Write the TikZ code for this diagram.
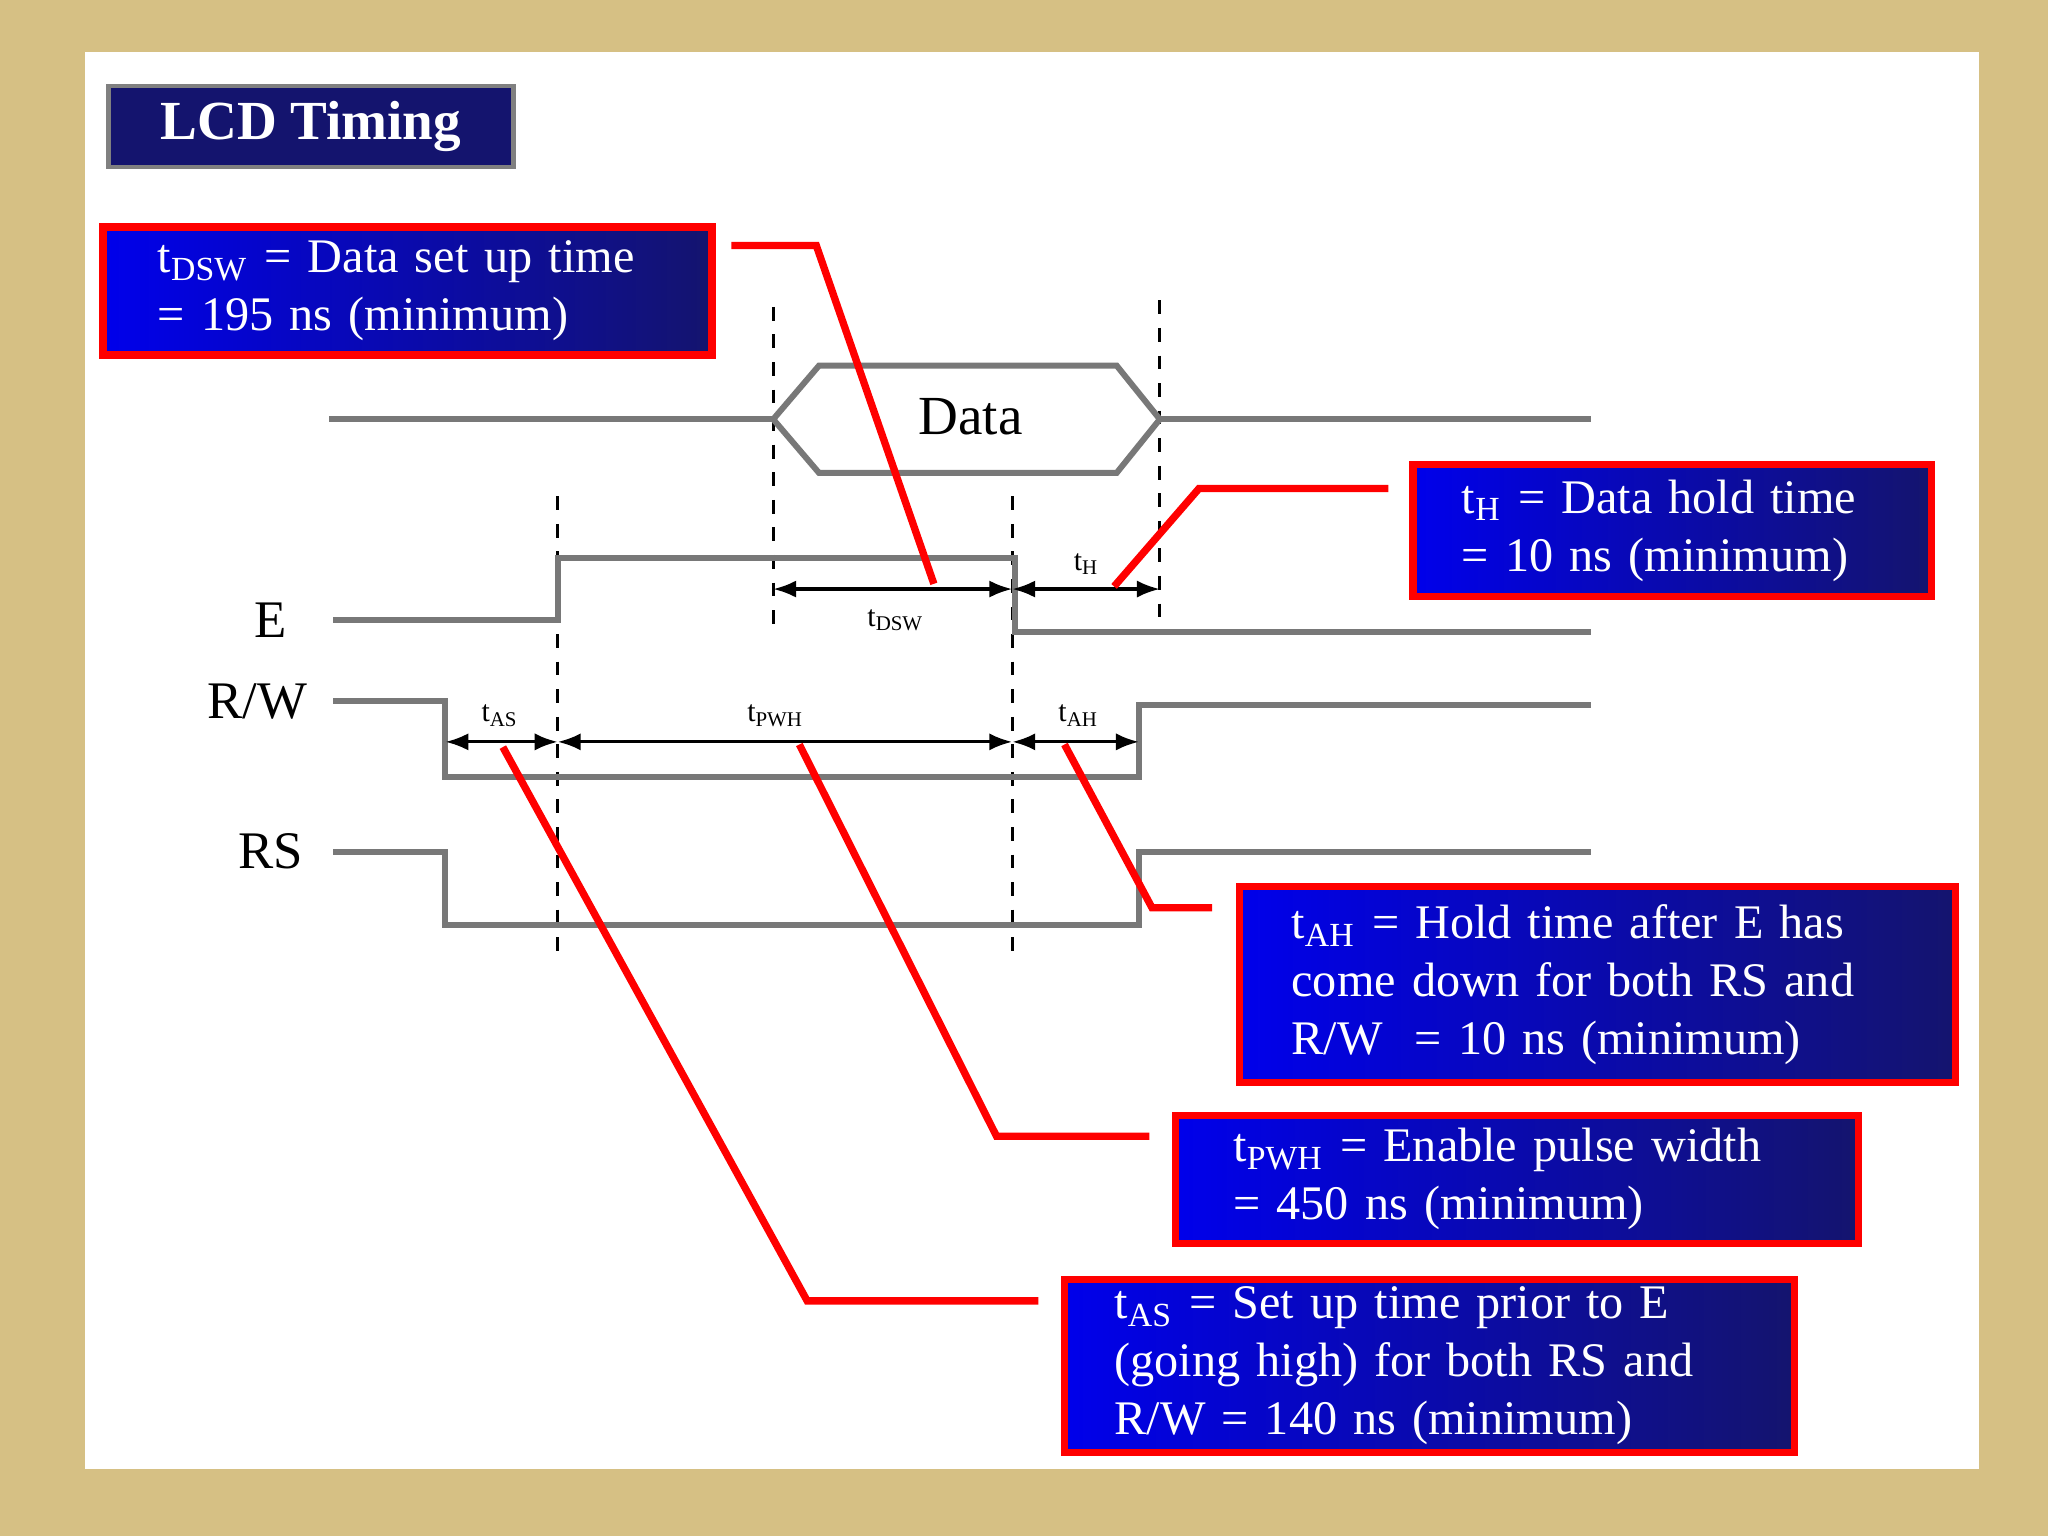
\documentclass[tikz,border=0pt]{standalone}
\usepackage{fontspec}
\setmainfont{Liberation Serif}
\usetikzlibrary{arrows.meta}
\definecolor{bgtan}{RGB}{214,192,132}
\definecolor{sig}{RGB}{120,120,120}
\definecolor{navy}{RGB}{20,20,110}
\tikzset{
 sigline/.style={draw=sig,line width=1.3pt},
 vdash/.style={draw=black,dashed,line width=0.7pt},
 redline/.style={draw=red,line width=1.6pt},
 infobox/.style={draw=red,line width=1.6pt,left color={rgb,255:red,0;green,0;blue,235},right color=navy,text=white,align=left,inner sep=0pt,font=\fontsize{10.5}{12.6}\selectfont},
 meas/.style={line width=0.7pt,{Latex[length=5pt]}-{Latex[length=5pt]}},
 sml/.style={font=\fontsize{6.5}{7}\selectfont,inner sep=0pt},
 sigl/.style={font=\fontsize{11.5}{13}\selectfont},
}
\begin{document}
\begin{tikzpicture}[x=0.01cm,y=-0.01cm]
\fill[bgtan] (0,0) rectangle (1568,1176);
\fill[white] (65,40) rectangle (1515,1125);
\useasboundingbox (0,0) rectangle (1568,1176);
% title
\node[draw=gray,line width=1pt,fill=navy,text=white,minimum width=3.1cm,minimum height=0.53cm,font=\fontsize{12}{14}\selectfont\bfseries] (title) at (238,97) {LCD Timing};
% boxes
\node[infobox,minimum width=4.66cm,minimum height=0.98cm,anchor=north west,text width=4.3cm] (bdsw) at (76,171) {\hspace*{0.24cm}t\textsubscript{DSW} = Data set up time\\\hspace*{0.24cm}= 195 ns (minimum)};
\node[infobox,minimum width=3.97cm,minimum height=1.01cm,anchor=north west,text width=3.7cm] (bh) at (1079,353) {\hspace*{0.24cm}t\textsubscript{H} = Data hold time\\\hspace*{0.24cm}= 10 ns (minimum)};
\node[infobox,minimum width=5.48cm,minimum height=1.5cm,anchor=north west,text width=5.2cm] (bah) at (946,676) {\hspace*{0.26cm}t\textsubscript{AH} = Hold time after E has\\\hspace*{0.26cm}come down for both RS and\\\hspace*{0.26cm}R/W\ \ = 10 ns (minimum)};
\node[infobox,minimum width=5.23cm,minimum height=0.98cm,anchor=north west,text width=4.9cm] (bpwh) at (897,851) {\hspace*{0.28cm}t\textsubscript{PWH} = Enable pulse width\\\hspace*{0.28cm}= 450 ns (minimum)};
\node[infobox,minimum width=5.59cm,minimum height=1.32cm,anchor=north west,text width=5.3cm] (bas) at (812,977) {\hspace*{0.24cm}t\textsubscript{AS} = Set up time prior to E\\\hspace*{0.24cm}(going high) for both RS and\\\hspace*{0.24cm}R/W = 140 ns (minimum)};
% dashed verticals
\draw[vdash] (592,235) -- (592,480);
\draw[vdash] (888,230) -- (888,480);
\draw[vdash] (427,380) -- (427,737);
\draw[vdash] (775,380) -- (775,737);
% Data
\draw[sigline] (252,321) -- (592,321);
\draw[sigline] (592,321) -- (627,280) -- (855,280) -- (888,321) -- (855,362) -- (627,362) -- cycle;
\draw[sigline] (888,321) -- (1218,321);
\node[font=\fontsize{12}{14}\selectfont] (data) at (743,319) {Data};
% signals
\node[sigl] (lE) at (207,475) {E};
\node[sigl] (lRW) at (197,537) {R/W};
\node[sigl] (lRS) at (207,652) {RS};
\draw[sigline] (255,475) -- (427,475) -- (427,427) -- (777,427) -- (777,484) -- (1218,484);
\draw[sigline] (255,537) -- (341,537) -- (341,595) -- (872,595) -- (872,540) -- (1218,540);
\draw[sigline] (255,652) -- (341,652) -- (341,708) -- (872,708) -- (872,652) -- (1218,652);
% measurements
\coordinate (a1) at (592,451); \coordinate (a2) at (775,451); \coordinate (a3) at (888,451);
\coordinate (b0) at (341,568); \coordinate (b1) at (427,568); \coordinate (b2) at (775,568); \coordinate (b3) at (872,568);
\draw[meas] (a1) -- (a2); \draw[meas] (a2) -- (a3);
\draw[meas] (b0) -- (b1); \draw[meas] (b1) -- (b2); \draw[meas] (b2) -- (b3);
\node[sml] (tdsw) at (686,475) {t\textsubscript{DSW}};
\node[sml] (th) at (832,432) {t\textsubscript{H}};
\node[sml] (tas) at (383,548) {t\textsubscript{AS}};
\node[sml] (tpwh) at (594,548) {t\textsubscript{PWH}};
\node[sml] (tah) at (826,548) {t\textsubscript{AH}};
% red leaders
\draw[redline] (560,188) -- (625,188) -- (715,447);
\draw[redline] (1063,374) -- (918,374) -- (853,449);
\draw[redline] (815,570) -- (882,695) -- (928,695);
\draw[redline] (612,570) -- (763,870) -- (880,870);
\draw[redline] (385,572) -- (618,996) -- (795,996);
\end{tikzpicture}
\end{document}
